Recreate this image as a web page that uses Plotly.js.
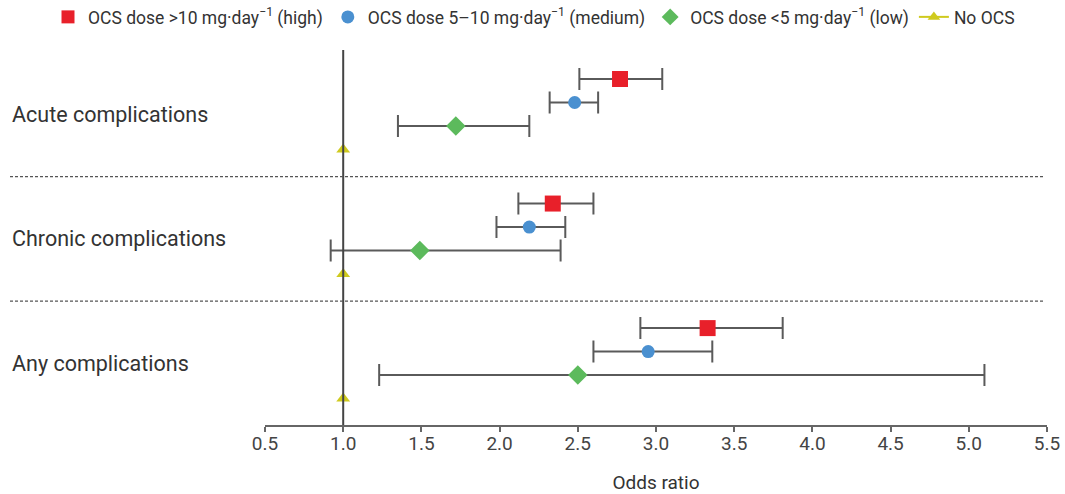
<!DOCTYPE html>
<html>
<head>
<meta charset="utf-8">
<script src="https://cdn.plot.ly/plotly-3.0.1.min.js"></script>
<style>html,body{margin:0;padding:0;background:#fff;}#chart{width:1065px;height:494px;}</style>
</head>
<body>
<div id="chart"></div>
<script>
// ---- data ----
const categories = ["Acute complications", "Chronic complications", "Any complications"];
const seriesNames = [
  "OCS dose >10 mg·day<sup>−1</sup> (high)",
  "OCS dose 5–10 mg·day<sup>−1</sup> (medium)",
  "OCS dose <5 mg·day<sup>−1</sup> (low)",
  "No OCS"
];
// odds ratios per category (Acute, Chronic, Any)
const highOR  = [2.77, 2.34, 3.33];
const highLo  = [2.51, 2.12, 2.90];
const highHi  = [3.04, 2.60, 3.81];
const medOR   = [2.48, 2.19, 2.95];
const medLo   = [2.32, 1.98, 2.60];
const medHi   = [2.63, 2.42, 3.36];
const lowOR   = [1.72, 1.49, 2.50];
const lowLo   = [1.35, 0.92, 1.23];
const lowHi   = [2.19, 2.39, 5.10];
const noneOR  = [1.0, 1.0, 1.0];
const xTicks  = [0.5, 1.0, 1.5, 2.0, 2.5, 3.0, 3.5, 4.0, 4.5, 5.0, 5.5];

// ---- layout helpers ----
const groupStep = 5.3;
const rowOf = (g, i) => g * groupStep + i;

const styles = [
  {symbol: "square", color: "#e8202a", size: 16},
  {symbol: "circle", color: "#4a90d0", size: 13},
  {symbol: "diamond", color: "#5cba5c", size: 15},
  {symbol: "triangle-up", color: "#cfca1e", size: 12}
];
const seriesVals = [
  [highOR, highLo, highHi],
  [medOR, medLo, medHi],
  [lowOR, lowLo, lowHi],
  [noneOR, null, null]
];

const traces = [];
seriesVals.forEach((sv, i) => {
  const [or, lo, hi] = sv;
  const t = {
    type: "scatter", mode: "markers",
    x: or, y: categories.map((c, g) => rowOf(g, i)),
    marker: {symbol: styles[i].symbol, color: styles[i].color, size: styles[i].size, line: {width: 0}},
    showlegend: false, hoverinfo: "x+y", cliponaxis: false
  };
  if (lo) {
    t.error_x = {
      type: "data", symmetric: false,
      array: or.map((v, k) => hi[k] - v),
      arrayminus: or.map((v, k) => v - lo[k]),
      color: "#5a5a5a", thickness: 2, width: 11
    };
  }
  traces.push(t);
});
// legend-only entries
seriesNames.forEach((n, i) => {
  traces.push({
    type: "scatter", mode: i === 3 ? "lines+markers" : "markers",
    x: [null], y: [null], name: n,
    marker: {symbol: styles[i].symbol, color: styles[i].color, size: i === 3 ? 11 : 13},
    line: {color: styles[i].color, width: 2},
    showlegend: true
  });
});

const plotL = 265, plotR = 1047, plotT = 50, plotB = 425;
const plotW = plotR - plotL, plotH = plotB - plotT;
const pxToPaperX = px => (px - plotL) / plotW;
const pxToPaperY = py => (plotB - py) / plotH;

const shapes = [
  {type: "line", xref: "x", yref: "paper", x0: 1, x1: 1, y0: 0, y1: 1,
   line: {color: "#444", width: 2}}
];
for (let g = 0; g < categories.length - 1; g++) {
  const ySep = (rowOf(g, 3) + rowOf(g + 1, 0)) / 2;
  shapes.push({type: "line", xref: "paper", yref: "y",
    x0: pxToPaperX(10), x1: pxToPaperX(1045), y0: ySep, y1: ySep,
    line: {color: "#555", width: 1.3, dash: "3px,2px"}});
}

const annotations = categories.map((c, g) => ({
  text: c, xref: "paper", yref: "y",
  x: pxToPaperX(10), y: rowOf(g, 1.5), xanchor: "left", yanchor: "middle",
  showarrow: false, font: {family: "Roboto, sans-serif", size: 21.5, color: "#333"}
}));

const layout = {
  width: 1065, height: 494,
  margin: {l: plotL, r: 1065 - plotR, t: plotT, b: 494 - plotB, pad: 0, autoexpand: false},
  paper_bgcolor: "#fff", plot_bgcolor: "#fff",
  font: {family: "Roboto, sans-serif", color: "#333"},
  showlegend: true,
  legend: {
    orientation: "h", x: pxToPaperX(48), y: pxToPaperY(17), xanchor: "left", yanchor: "middle",
    font: {family: "Roboto, sans-serif", size: 17.5, color: "#333"},
    itemwidth: 30, tracegroupgap: 0, bgcolor: "rgba(0,0,0,0)"
  },
  xaxis: {
    range: [0.5, 5.5], tickvals: xTicks, ticktext: xTicks.map(v => v.toFixed(1)),
    showgrid: false, zeroline: false, showline: true, linecolor: "#666", linewidth: 2,
    ticks: "outside", ticklen: 5, tickwidth: 2, tickcolor: "#666",
    ticklabelstandoff: -5,
    tickfont: {family: "Roboto, sans-serif", size: 19, color: "#444"},
    title: {text: "Odds ratio", font: {family: "Roboto, sans-serif", size: 19, color: "#333"}, standoff: 24},
    fixedrange: true
  },
  yaxis: {
    range: [(plotB - 79) / 23.5, (plotT - 79) / 23.5],
    showgrid: false, zeroline: false, showline: false, showticklabels: false, ticks: "",
    fixedrange: true
  },
  shapes: shapes,
  annotations: annotations
};

Plotly.newPlot("chart", traces, layout, {displayModeBar: false, staticPlot: true});
</script>
</body>
</html>
